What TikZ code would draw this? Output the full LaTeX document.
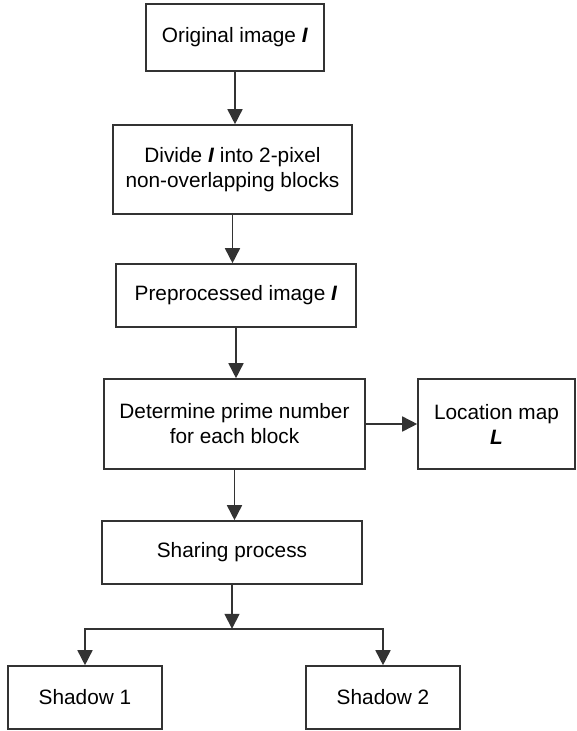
\documentclass[tikz,border=0pt]{standalone}
\usepackage{fontspec}
\setmainfont{Liberation Sans}
\usetikzlibrary{arrows.meta, positioning}
\definecolor{mygray}{RGB}{51,51,51}
\newcommand{\bfit}[1]{\textbf{\textit{#1}}}

\begin{document}
\begin{tikzpicture}[x=1pt,y=-1pt,
    every node/.style={font=\fontsize{20.8}{25}\selectfont},
    box/.style={draw=mygray,line width=1.6pt,inner sep=0pt,align=center,minimum height=63pt},
    arr/.style={-{Triangle[length=15pt,width=15pt]},draw=mygray,line width=1.6pt}]
    \useasboundingbox (0,0) rectangle (577,731);
    % main column
    \node[box,minimum width=178pt,minimum height=67pt] (orig) at (235,37.5) {Original image \bfit{I}};
    \node[box,minimum width=239pt,minimum height=89pt] (divide) at (232.5,169.5) {Divide \bfit{I} into 2-pixel\\non-overlapping blocks};
    \node[box,minimum width=240pt] (prep) at (236,295.5) {Preprocessed image \bfit{I}};
    \node[box,minimum width=261pt,minimum height=90pt] (prime) at (234.5,424) {Determine prime number\\for each block};
    \node[box,minimum width=157pt,minimum height=90pt] (locmap) at (496.5,424) {Location map\\\bfit{L}};
    \node[box,minimum width=260pt] (sharing) at (232,552.5) {Sharing process};
    \node[box,minimum width=154pt] (shadow1) at (85,697.5) {Shadow 1};
    \node[box,minimum width=154pt] (shadow2) at (383,697.5) {Shadow 2};
    \coordinate[below=44pt of sharing.south] (branch);
    % connectors
    \draw[arr] (orig.south) -- (orig.south |- divide.north);
    \draw[arr] (divide.south) -- (divide.south |- prep.north);
    \draw[arr] (prep.south) -- (prep.south |- prime.north);
    \draw[arr] (prime.east) -- (locmap.west);
    \draw[arr] (prime.south) -- (prime.south |- sharing.north);
    \draw[arr] (sharing.south) -- (branch);
    \draw[arr] (branch) -| (shadow1.north);
    \draw[arr] (branch) -| (shadow2.north);
\end{tikzpicture}
\end{document}
